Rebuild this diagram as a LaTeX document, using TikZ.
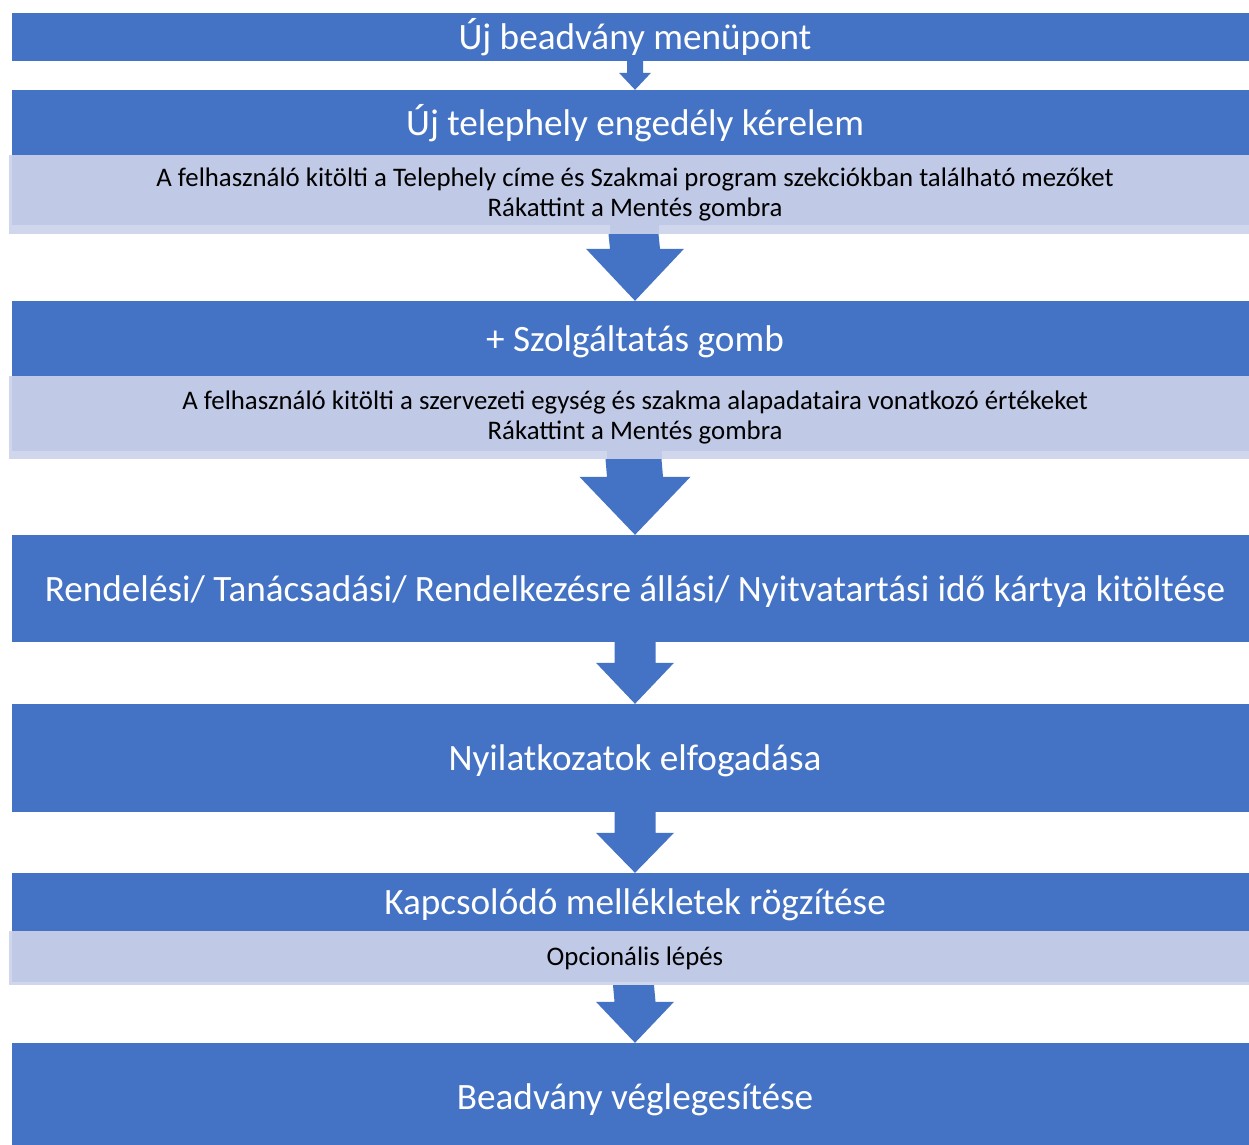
\documentclass[tikz,border=0pt]{standalone}
\usepackage{fontspec}
\setmainfont{Carlito}
\usetikzlibrary{calc}
\definecolor{boxblue}{HTML}{4472C4}
\definecolor{lightin}{HTML}{C0C9E6}
\definecolor{lightout}{HTML}{D0D6EB}
\tikzset{
  mainbox/.style={fill=boxblue, draw=none, minimum width=1246pt, inner sep=0pt, text=white, text height=30pt, text depth=5pt, font=\fontsize{37.2}{42}\selectfont},
  subbox/.style={fill=lightin, draw=none, minimum width=1246pt, inner sep=0pt},
  outerbox/.style={fill=lightout, draw=none, minimum width=1249pt, inner sep=0pt},
  subtext/.style={text=black, align=center, inner sep=0pt, font=\fontsize{26.8}{30}\selectfont},
  arrowfill/.style={fill=boxblue, draw=none},
}
% \blockarrow{upper node}{lower node}{shaft half width}{head half width}{head length}
\newcommand{\blockarrow}[5]{%
  \fill[arrowfill] ($(#1.south)+(-#3,0)$) -- ($(#2.north)+(-#3,-#5)$) -- ($(#2.north)+(-#4,-#5)$)
    -- (#2.north) -- ($(#2.north)+(#4,-#5)$) -- ($(#2.north)+(#3,-#5)$) -- ($(#1.south)+(#3,0)$) -- cycle;}
\begin{document}
\begin{tikzpicture}[x=1pt,y=-1pt]
\useasboundingbox (0,0) rectangle (1249,1144);
\fill[white] (0,0) rectangle (1249,1144);

% boxes
\node[mainbox, minimum height=48pt] (b1) at (635,37) {Új beadvány menüpont};
\node[mainbox, minimum height=65pt] (b2) at (635,122.5) {Új telephely engedély kérelem};
\node[outerbox, minimum height=79pt] (o2) at (633.5,194.5) {};
\node[subbox, minimum height=70pt] (l2) at (635,190) {};
\node[subtext] (t2) at (635,194.5) {A felhasználó kitölti a Telephely címe és Szakmai program szekciókban található mezőket\\Rákattint a Mentés gombra};

\node[mainbox, minimum height=75pt] (b3) at (635,338.5) {+ Szolgáltatás gomb};
\node[outerbox, minimum height=83pt] (o3) at (633.5,417.5) {};
\node[subbox, minimum height=75pt] (l3) at (635,413.5) {};
\node[subtext] (t3) at (635,417) {A felhasználó kitölti a szervezeti egység és szakma alapadataira vonatkozó értékeket\\Rákattint a Mentés gombra};

\node[mainbox, minimum height=107pt] (b4) at (635,588.5) {Rendelési/ Tanácsadási/ Rendelkezésre állási/ Nyitvatartási idő kártya kitöltése};
\node[mainbox, minimum height=108pt] (b5) at (635,758) {Nyilatkozatok elfogadása};
\node[mainbox, minimum height=58pt] (b6) at (635,902) {Kapcsolódó mellékletek rögzítése};
\node[outerbox, minimum height=54pt] (o6) at (633.5,958) {};
\node[subbox, minimum height=51pt] (l6) at (635,956.5) {};
\node[subtext] (t6) at (635,958.5) {Opcionális lépés};
\node[mainbox, minimum height=107pt] (b7) at (635,1096.5) {Beadvány véglegesítése};

% arrows
\blockarrow{b1}{b2}{8}{16}{17}
\blockarrow{o2}{b3}{25}{49}{52}
\fill[lightin] ($(l2.south)+(-25,0)$) rectangle ($(o2.south)+(25,0)$);
\blockarrow{o3}{b4}{28}{55.5}{58}
\fill[lightin] ($(l3.south)+(-28,0)$) rectangle ($(o3.south)+(28,0)$);
\blockarrow{b4}{b5}{20.5}{39}{41}
\blockarrow{b5}{b6}{20.5}{39}{40}
\blockarrow{o6}{b7}{20.5}{39}{41}
\end{tikzpicture}
\end{document}
